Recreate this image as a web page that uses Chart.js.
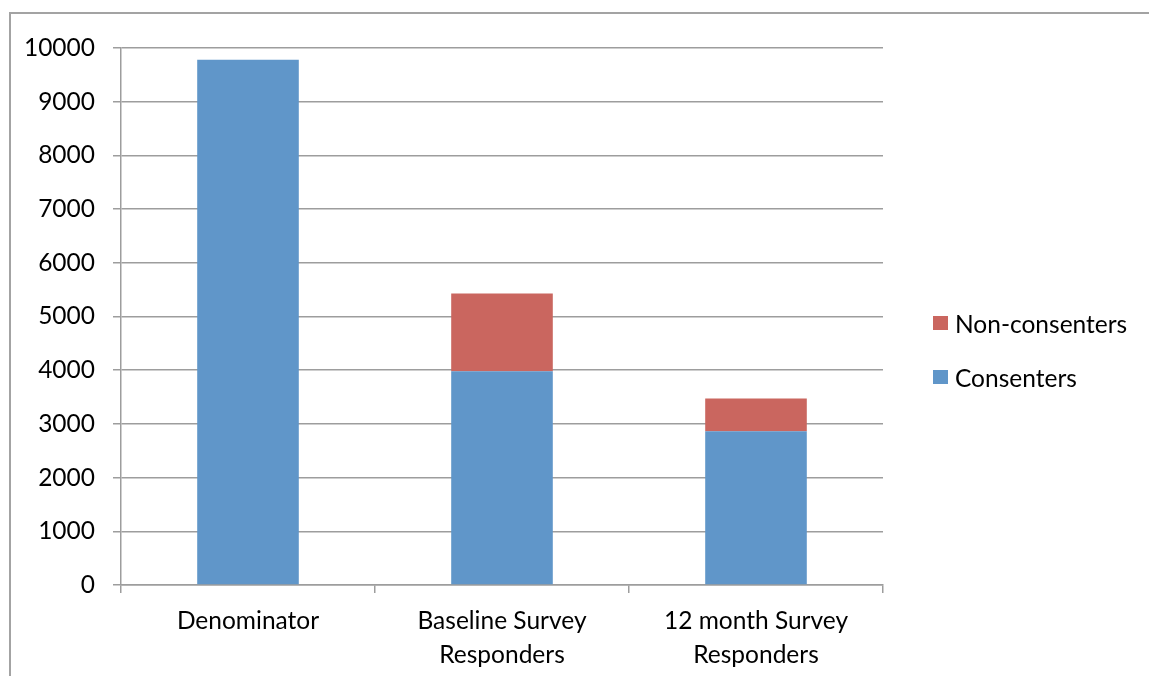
<!DOCTYPE html>
<html>
<head>
<meta charset="utf-8">
<script src="https://cdn.jsdelivr.net/npm/chart.js@4/dist/chart.umd.min.js"></script>
<style>
  html, body { margin: 0; padding: 0; background: #ffffff; }
  #wrap { position: relative; width: 1149px; height: 676px; }
</style>
</head>
<body>
<div id="wrap"><canvas id="c" width="1149" height="676"></canvas></div>
<script>
// Survey participation counts by stage
const categories = ['Denominator', ['Baseline Survey', 'Responders'], ['12 month Survey', 'Responders']];
const consenters = [9780, 3980, 2865];
const nonConsenters = [0, 1450, 610];
const yTicks = { min: 0, max: 10000, step: 1000 };

const BLUE = '#6096c9';
const RED = '#ca665f';
const GRID = '#9d9d9d';
const FONT = 'Lato, "Open Sans", sans-serif';
const FONT_SIZE = 24.5;

// Outer frame lines along the top and left edges
const framePlugin = {
  id: 'frame',
  beforeDraw(chart) {
    const ctx = chart.ctx;
    ctx.save();
    ctx.strokeStyle = '#a3a3a3';
    ctx.lineWidth = 2;
    ctx.beginPath();
    ctx.moveTo(10, 676);
    ctx.lineTo(10, 13);
    ctx.lineTo(1149, 13);
    ctx.stroke();
    ctx.restore();
  }
};

// Legend on the right, series listed top-down in reverse stack order
const sideLegend = {
  id: 'sideLegend',
  afterDraw(chart) {
    const ctx = chart.ctx;
    const sets = chart.data.datasets.slice().reverse();
    ctx.save();
    ctx.font = FONT_SIZE + 'px ' + FONT;
    ctx.textBaseline = 'middle';
    ctx.textAlign = 'left';
    sets.forEach((ds, i) => {
      const cy = 323 + i * 54;
      ctx.fillStyle = ds.backgroundColor;
      ctx.fillRect(933, cy - 7, 15, 14);
      ctx.fillStyle = '#000000';
      ctx.fillText(ds.label, 955, cy + 2);
    });
    ctx.restore();
  }
};

new Chart(document.getElementById('c'), {
  type: 'bar',
  data: {
    labels: categories,
    datasets: [
      { label: 'Consenters', data: consenters, backgroundColor: BLUE, borderWidth: 0 },
      { label: 'Non-consenters', data: nonConsenters, backgroundColor: RED, borderWidth: 0 }
    ]
  },
  options: {
    responsive: false,
    animation: false,
    devicePixelRatio: 1,
    layout: { padding: { left: 0, right: 266, top: 48, bottom: 0 } },
    plugins: { legend: { display: false }, tooltip: { enabled: false } },
    datasets: { bar: { categoryPercentage: 1, barPercentage: 0.4 } },
    scales: {
      x: {
        stacked: true,
        grid: { display: true, drawOnChartArea: false, offset: true, color: GRID, lineWidth: 1.5, tickLength: 8 },
        border: { display: true, color: GRID, width: 1.5 },
        ticks: { color: '#000000', font: { family: FONT, size: FONT_SIZE, lineHeight: 1.4 }, padding: 11, maxRotation: 0, autoSkip: false },
        afterFit(scale) { scale.height = 91; }
      },
      y: {
        stacked: true,
        min: yTicks.min,
        max: yTicks.max,
        grid: { color: GRID, lineWidth: 1.5, tickLength: 8 },
        border: { display: true, color: GRID, width: 1.5 },
        ticks: {
          stepSize: yTicks.step,
          color: '#000000',
          font: { family: FONT, size: FONT_SIZE },
          padding: 18,
          callback: (v) => String(v)
        },
        afterFit(scale) { scale.width = 121; }
      }
    }
  },
  plugins: [framePlugin, sideLegend]
});
</script>
</body>
</html>
